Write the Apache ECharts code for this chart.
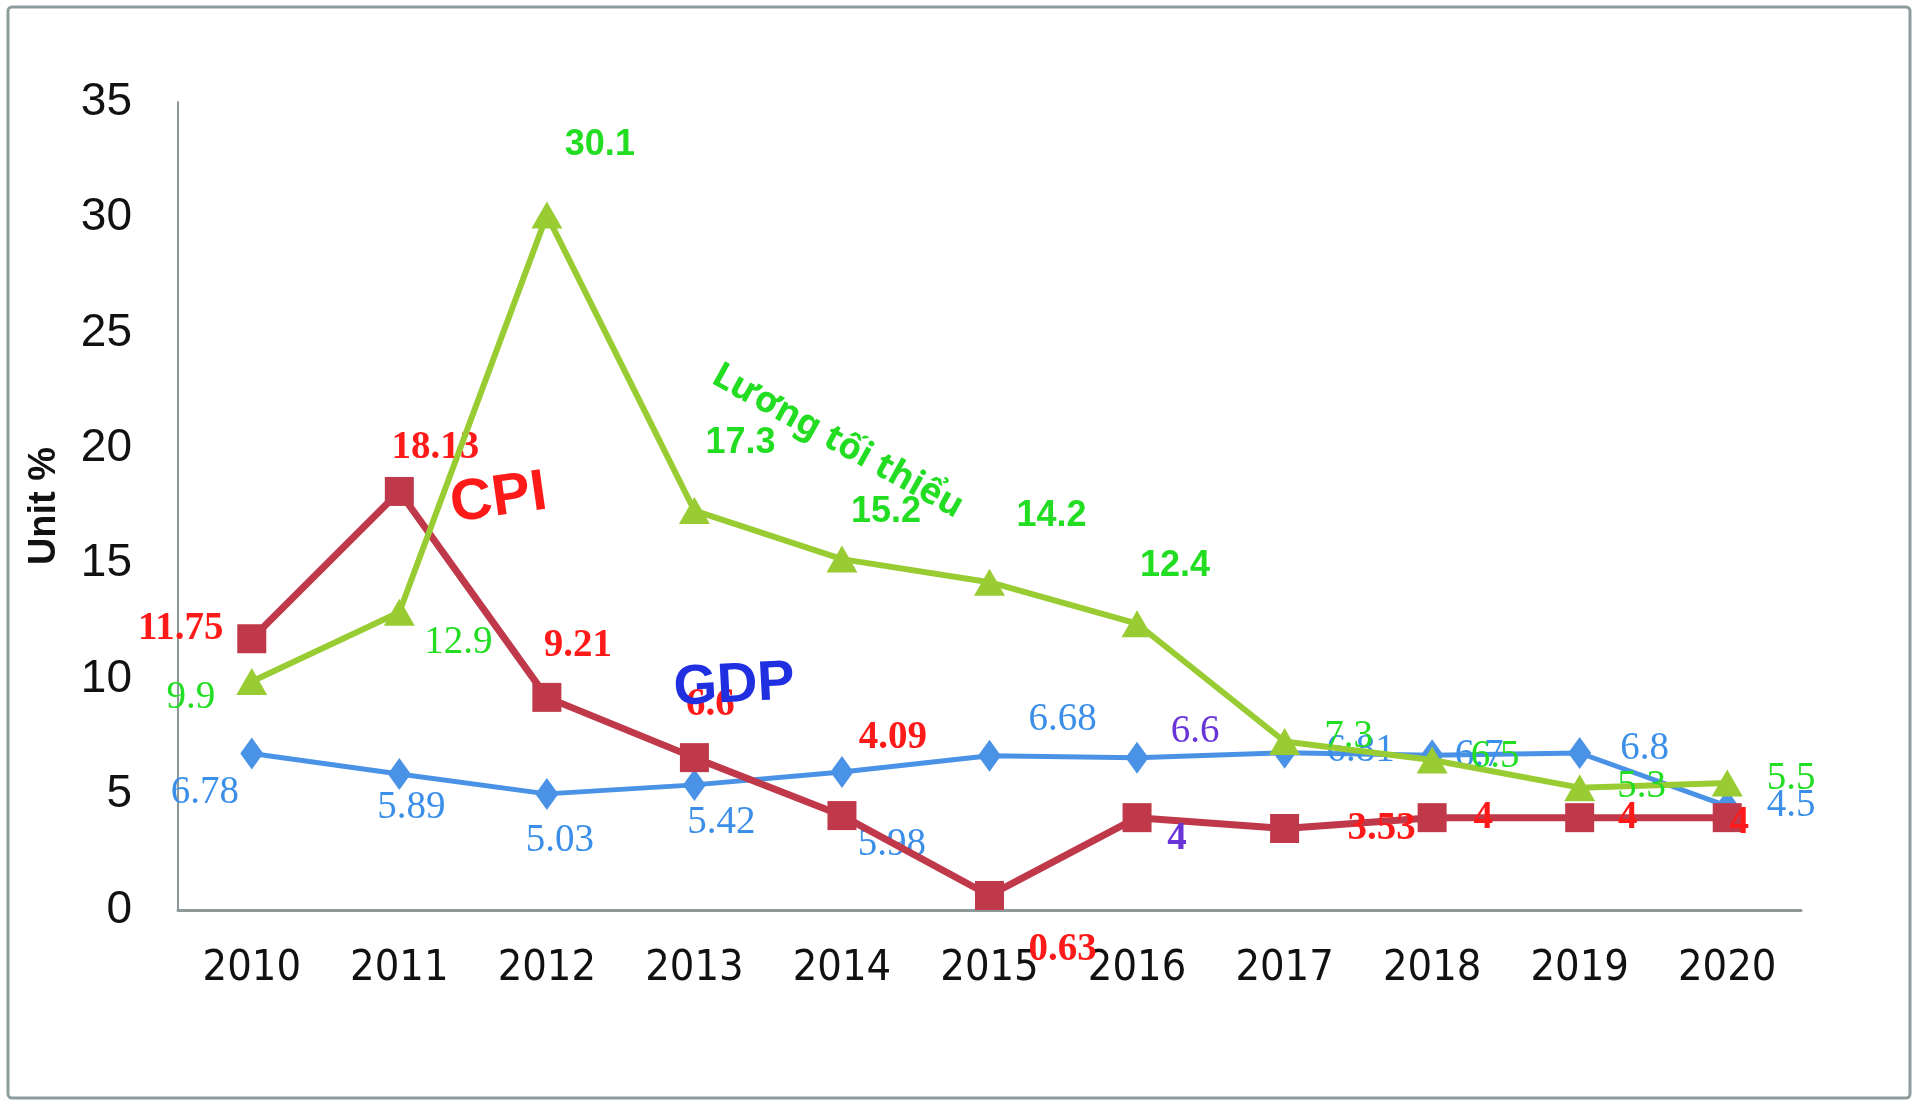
<!DOCTYPE html>
<html>
<head>
<meta charset="utf-8">
<script src="https://cdn.jsdelivr.net/npm/echarts@6/dist/echarts.min.js"></script>
<style>
html,body{margin:0;padding:0;background:#fff;}
#chart{width:1920px;height:1107px;}
</style>
</head>
<body>
<div id="chart"></div>
<script>
// ---- data ----
var years = ['2010','2011','2012','2013','2014','2015','2016','2017','2018','2019','2020'];
var gdp = [6.78, 5.89, 5.03, 5.42, 5.98, 6.68, 6.6, 6.81, 6.7, 6.8, 4.5];
var cpi = [11.75, 18.13, 9.21, 6.6, 4.09, 0.63, 4, 3.53, 4, 4, 4];
var minWage = [9.9, 12.9, 30.1, 17.3, 15.2, 14.2, 12.4, 7.3, 6.5, 5.3, 5.5];
var yTicks = [0, 5, 10, 15, 20, 25, 30, 35];

// ---- label styling (positions relative to each marker) ----
var gdpOffsets = [[-47,39],[12,34],[13,47],[27,38],[50,73],[73,-36],[58,-26],[76,-2],[47,0],[65,-4],[64,0]];
var cpiOffsets = [[-71,-10],[36,-44],[31,-51],[16,-53],[51,-78],[73,54],[40,21],[97,0],[51,0],[48,0],[12,5]];
var wageOffsets = [[-61,16],[59,31],[53,-70],[46,-68],[44,-47],[62,-66],[38,-58],[64,-5],[63,-3],[62,-1],[64,-4]];
var wageSans = [false,false,true,true,true,true,true,false,false,false,false];

var SERIF = '"Liberation Serif","Times New Roman",serif';
var SANS = '"Liberation Sans",Arial,sans-serif';
var VIET = '"Noto Sans","DejaVu Sans",sans-serif';
var NARROW = '"Liberation Sans Narrow","Arial Narrow","DejaVu Sans Condensed",sans-serif';

function buildData(values, offsets, styler) {
  return values.map(function (v, i) {
    var lab = { show: true, position: 'inside', align: 'center', verticalAlign: 'middle', offset: offsets[i] };
    var extra = styler(i);
    for (var k in extra) lab[k] = extra[k];
    return { value: v, label: lab };
  });
}

var gdpData = buildData(gdp, gdpOffsets, function (i) {
  return { color: i === 6 ? '#6a35d8' : '#3b8fe8', fontFamily: SERIF, fontSize: 39, fontWeight: 'normal' };
});
var cpiData = buildData(cpi, cpiOffsets, function (i) {
  return { color: i === 6 ? '#6a35d8' : '#ff1a1a', fontFamily: SERIF, fontSize: 39, fontWeight: 'bold' };
});
var wageData = buildData(minWage, wageOffsets, function (i) {
  return wageSans[i]
    ? { color: '#22dd22', fontFamily: SANS, fontSize: 36, fontWeight: 'bold' }
    : { color: '#22dd22', fontFamily: SERIF, fontSize: 39, fontWeight: 'normal' };
});

var chart = echarts.init(document.getElementById('chart'), null, { renderer: 'canvas' });

var option = {
  backgroundColor: '#ffffff',
  animation: false,
  grid: { left: 178, right: 119, top: 102, bottom: 197, containLabel: false },
  xAxis: {
    type: 'category',
    data: years,
    boundaryGap: true,
    axisLine: { show: true, lineStyle: { color: '#8d9999', width: 3 } },
    axisTick: { show: false },
    axisLabel: { color: '#111', fontFamily: NARROW, fontSize: 43, margin: 37 },
    splitLine: { show: false }
  },
  yAxis: {
    type: 'value',
    min: yTicks[0],
    max: yTicks[yTicks.length - 1],
    interval: yTicks[1] - yTicks[0],
    name: 'Unit %',
    nameLocation: 'middle',
    nameGap: 114,
    nameRotate: 90,
    nameTextStyle: { color: '#111', fontFamily: SANS, fontSize: 38, fontWeight: 'bold' },
    axisLine: { show: true, lineStyle: { color: '#8d9999', width: 2 } },
    axisTick: { show: false },
    axisLabel: { color: '#111', fontFamily: SANS, fontSize: 46, margin: 46 },
    splitLine: { show: false }
  },
  series: [
    {
      name: 'GDP',
      type: 'line',
      data: gdpData,
      z: 2,
      symbol: 'diamond',
      symbolSize: [23, 32],
      lineStyle: { color: '#4a92e6', width: 5 },
      itemStyle: { color: '#4a92e6' }
    },
    {
      name: 'CPI',
      type: 'line',
      data: cpiData,
      z: 3,
      symbol: 'rect',
      symbolSize: 29,
      lineStyle: { color: '#c0394a', width: 7 },
      itemStyle: { color: '#c0394a' }
    },
    {
      name: 'Lương tối thiểu',
      type: 'line',
      data: wageData,
      z: 4,
      symbol: 'triangle',
      symbolSize: [31, 27],
      lineStyle: { color: '#99cc33', width: 6 },
      itemStyle: { color: '#99cc33' }
    }
  ]
};
chart.setOption(option);

// annotations placed in data space (fractional category positions interpolated)
function px(catPos, val) {
  var i0 = Math.floor(catPos), i1 = Math.min(i0 + 1, years.length - 1), f = catPos - i0;
  var a = chart.convertToPixel({ gridIndex: 0 }, [i0, val]);
  var b = chart.convertToPixel({ gridIndex: 0 }, [i1, val]);
  return [a[0] + (b[0] - a[0]) * f, a[1]];
}
var pCPI = px(1.674, 17.8);
var pGDP = px(3.27, 9.7);
var pWage = px(3.97, 20.3);
chart.setOption({
  graphic: [
    {
      type: 'rect', z: 100, silent: true,
      shape: { x: 8, y: 7, width: 1902, height: 1091, r: 4 },
      style: { fill: 'none', stroke: '#8d9c9c', lineWidth: 3 }
    },
    {
      type: 'text', z: 110, x: pCPI[0], y: pCPI[1], rotation: 8 * Math.PI / 180,
      style: { text: 'CPI', fill: '#ff1a1a', font: 'bold 58px ' + SANS, align: 'center', verticalAlign: 'middle' }
    },
    {
      type: 'text', z: 110, x: pGDP[0], y: pGDP[1], rotation: 3 * Math.PI / 180,
      style: { text: 'GDP', fill: '#2030e0', font: 'bold 56px ' + SANS, align: 'center', verticalAlign: 'middle' }
    },
    {
      type: 'text', z: 110, x: pWage[0], y: pWage[1], rotation: -29 * Math.PI / 180,
      style: { text: 'Lương tối thiểu', fill: '#22dd22', font: 'bold 36px ' + VIET, align: 'center', verticalAlign: 'middle' }
    }
  ]
});
</script>
</body>
</html>
